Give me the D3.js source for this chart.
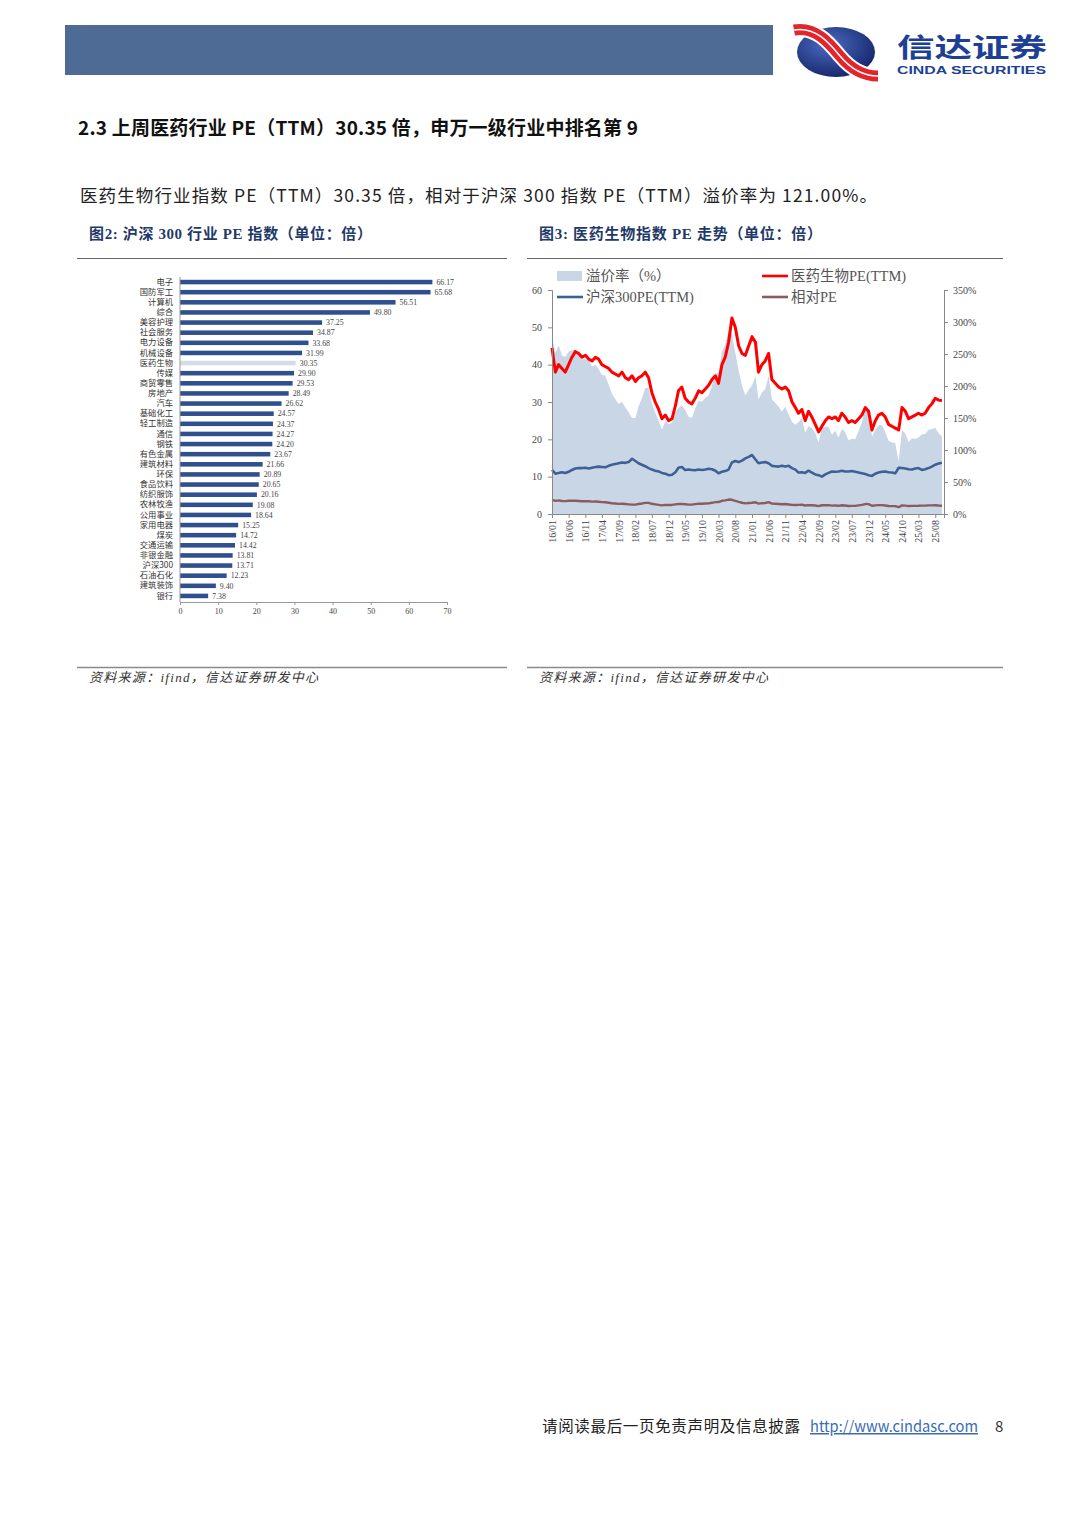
<!DOCTYPE html>
<html>
<head>
<meta charset="utf-8">
<script src="https://cdn.jsdelivr.net/npm/d3@7"></script>
<style>
  body { margin: 0; background: #fff; }
  svg { display: block; }
</style>
</head>
<body>
<script>
// ---- data: fig 2, SW level-1 industry PE (TTM)
var categories = ["电子","国防军工","计算机","综合","美容护理","社会服务","电力设备","机械设备","医药生物","传媒",
                  "商贸零售","房地产","汽车","基础化工","轻工制造","通信","钢铁","有色金属","建筑材料","环保",
                  "食品饮料","纺织服饰","农林牧渔","公用事业","家用电器","煤炭","交通运输","非银金融","沪深300","石油石化",
                  "建筑装饰","银行"];
var peValues   = [66.17,65.68,56.51,49.80,37.25,34.87,33.68,31.99,30.35,29.90,
                  29.53,28.49,26.62,24.57,24.37,24.27,24.20,23.67,21.66,20.89,
                  20.65,20.16,19.08,18.64,15.25,14.72,14.42,13.81,13.71,12.23,
                  9.40,7.38];
var highlightCat = "医药生物";
var barTicks = [0,10,20,30,40,50,60,70];

// ---- data: fig 3, monthly from 2016/01 to 2025/10
var seriesStart = new Date(2016, 0, 1);
var medPE = [
  44.5,38,40,39,38,40,42,43.5,43,42,42.5,41.5,          // 2016
  41,42,41.5,40,39.5,39,38,37.5,37,38,36.5,36,          // 2017
  37,35.5,36.5,37,38,36.5,32.5,30,28,25.5,26.5,25,      // 2018
  25.5,29,33,34,31,30,29.5,31,33,32.5,33.5,34.5,        // 2019
  36,37,35,40,42,46,52.5,50,45,43,42.5,45,              // 2020
  47.5,46,38,40,41,43,36,35,34,33.5,34,33,              // 2021
  30,28.5,27,28,25,27.5,26,24,22,23.5,25,26,            // 2022
  25.5,26,25,27,26,24.5,25,24.5,25.5,26.5,28.5,27.5,    // 2023
  22.5,25,26.5,27,26,24,23.5,23,22.5,28.5,27.5,25.5,    // 2024
  26,26.5,27,26.5,27,28.5,29.5,31,30.5,30.35            // 2025
];
var hs300PE = [
  11.8,10.8,11,11.2,11,11.3,11.8,12.2,12.3,12.3,12.4,12.2,
  12.4,12.6,12.7,12.6,12.5,12.9,13.2,13.4,13.6,13.8,13.7,13.9,
  14.8,14.2,13.6,13.2,12.8,12.3,11.9,11.6,11.4,11.0,10.8,10.4,
  10.5,11.2,12.4,12.6,11.8,11.9,11.8,11.7,11.9,11.8,11.9,12.1,
  12.0,11.6,10.9,11.3,11.5,11.9,13.8,14.2,13.9,14.3,14.9,15.3,
  15.8,14.6,13.6,13.8,13.9,13.6,12.9,12.8,12.7,12.9,12.7,12.9,
  12.3,11.9,11.1,11.2,11.0,11.6,11.1,10.6,10.4,10.0,10.6,11.0,
  11.4,11.3,11.4,11.6,11.4,11.4,11.5,11.3,11.1,10.9,10.7,10.4,
  10.2,10.8,11.1,11.3,11.4,11.2,11.1,10.9,12.4,12.3,12.2,12.0,
  11.9,12.2,12.3,11.8,12.0,12.3,12.7,13.2,13.5,13.71
];
var leftTicks  = [0,10,20,30,40,50,60];
var rightTicks = [0,50,100,150,200,250,300,350];
var xTickStep  = 5; // months between date labels

var CJK   = "'Noto Sans CJK SC', sans-serif";
var SERIF = "'Liberation Serif', 'Noto Sans CJK SC', serif";

var svg = d3.select("body").append("svg")
    .attr("width", 1080)
    .attr("height", 1527);

// ---------- page header
svg.append("rect")
    .attr("x", 65).attr("y", 25).attr("width", 708).attr("height", 50)
    .attr("fill", "#4d6b95");

var defs = svg.append("defs");
var grad = defs.append("radialGradient").attr("id", "logoGrad")
    .attr("cx", "40%").attr("cy", "35%").attr("r", "70%");
grad.append("stop").attr("offset", "0%").attr("stop-color", "#4a6cc0");
grad.append("stop").attr("offset", "100%").attr("stop-color", "#15246a");

svg.append("ellipse")
    .attr("cx", 836).attr("cy", 52).attr("rx", 39).attr("ry", 25)
    .attr("fill", "url(#logoGrad)");

// red double swoosh across the emblem
var swoosh = "M794,30 C816,26 830,44 840,56 S862,76 878,76";
svg.append("path").attr("d", swoosh)
    .attr("fill", "none").attr("stroke", "#fff").attr("stroke-width", 15);
svg.append("path").attr("d", swoosh)
    .attr("fill", "none").attr("stroke", "#e3242b").attr("stroke-width", 11);
svg.append("path").attr("d", swoosh)
    .attr("fill", "none").attr("stroke", "#fff").attr("stroke-width", 1.6);

svg.append("text")
    .attr("x", 897).attr("y", 57)
    .attr("textLength", 150).attr("lengthAdjust", "spacingAndGlyphs")
    .style("font-family", CJK).style("font-weight", "bold").style("font-size", "26px")
    .attr("fill", "#1d3f94")
    .text("信达证券");
svg.append("text")
    .attr("x", 897).attr("y", 74)
    .attr("textLength", 149).attr("lengthAdjust", "spacingAndGlyphs")
    .style("font-family", "'Liberation Sans', Arial, sans-serif").style("font-weight", "bold").style("font-size", "11px")
    .attr("fill", "#1d3f94")
    .text("CINDA SECURITIES");

// ---------- headings
svg.append("text")
    .attr("x", 78).attr("y", 135)
    .attr("textLength", 560).attr("lengthAdjust", "spacing")
    .style("font-family", CJK).style("font-weight", "bold").style("font-size", "19px")
    .attr("fill", "#111")
    .text("2.3 上周医药行业 PE（TTM）30.35 倍，申万一级行业中排名第 9");

svg.append("text")
    .attr("x", 80).attr("y", 202)
    .attr("textLength", 797).attr("lengthAdjust", "spacing")
    .style("font-family", CJK).style("font-size", "17.5px")
    .attr("fill", "#222")
    .text("医药生物行业指数 PE（TTM）30.35 倍，相对于沪深 300 指数 PE（TTM）溢价率为 121.00%。");

function figTitle(x, label){
  svg.append("text")
      .attr("x", x).attr("y", 239)
      .attr("textLength", 283).attr("lengthAdjust", "spacing")
      .style("font-family", SERIF).style("font-weight", "bold").style("font-size", "15px")
      .attr("fill", "#1f3a68")
      .text(label);
}
figTitle(89, "图2: 沪深 300 行业 PE 指数（单位：倍）");
figTitle(539, "图3: 医药生物指数 PE 走势（单位：倍）");

[[77, 507], [527, 1003]].forEach(function(r){
  svg.append("line").attr("x1", r[0]).attr("x2", r[1]).attr("y1", 258.5).attr("y2", 258.5)
      .attr("stroke", "#666").attr("stroke-width", 1);
  svg.append("line").attr("x1", r[0]).attr("x2", r[1]).attr("y1", 667.5).attr("y2", 667.5)
      .attr("stroke", "#8a8a8a").attr("stroke-width", 1.6);
  svg.append("text")
      .attr("x", r[0] + 12).attr("y", 682)
      .attr("textLength", 229).attr("lengthAdjust", "spacing")
      .style("font-family", SERIF).style("font-style", "italic").style("font-size", "13px")
      .attr("fill", "#333")
      .text("资料来源：ifind，信达证券研发中心");
});

// ---------- fig 2: horizontal bars
var xBar = d3.scaleLinear().domain([0, 70]).range([180, 447]);
var yBar = d3.scaleBand().domain(categories).range([277, 601])
    .paddingInner(0.55).paddingOuter(0.275);

var barG = svg.append("g");
barG.selectAll("rect.bar")
    .data(categories).enter()
    .append("rect")
    .attr("class", "bar")
    .attr("x", xBar(0))
    .attr("y", function(d){ return yBar(d); })
    .attr("width", function(d, i){ return xBar(peValues[i]) - xBar(0); })
    .attr("height", yBar.bandwidth())
    .attr("fill", function(d){ return d == highlightCat ? "#d3dde9" : "#2f4f8e"; });

barG.selectAll("text.val")
    .data(categories).enter()
    .append("text")
    .attr("class", "val")
    .attr("x", function(d, i){ return xBar(peValues[i]) + 4; })
    .attr("y", function(d){ return yBar(d) + yBar.bandwidth() / 2; })
    .attr("dy", "0.35em")
    .style("font-family", SERIF).style("font-size", "7.8px")
    .attr("fill", "#444")
    .text(function(d, i){ return peValues[i].toFixed(2); });

var yBarAxis = svg.append("g")
    .attr("transform", "translate(" + xBar(0) + ",0)")
    .call(d3.axisLeft(yBar).tickSize(0).tickPadding(7));
yBarAxis.select(".domain").attr("stroke", "#999").attr("d", "M0,277V602");
yBarAxis.selectAll("text").style("font-family", CJK).style("font-size", "8.3px").attr("fill", "#333");

var xBarAxis = svg.append("g")
    .attr("transform", "translate(0,602)")
    .call(d3.axisBottom(xBar).tickValues(barTicks).tickSize(3).tickPadding(3));
xBarAxis.select(".domain").attr("stroke", "#999");
xBarAxis.selectAll("line").attr("stroke", "#999");
xBarAxis.selectAll("text").style("font-family", SERIF).style("font-size", "8px").attr("fill", "#444");

// ---------- fig 3: PE trend
var dates = medPE.map(function(d, i){ return d3.timeMonth.offset(seriesStart, i); });
var rows = dates.map(function(d, i){
  return {
    date: d,
    med: medPE[i],
    hs: hs300PE[i],
    premium: (medPE[i] / hs300PE[i] - 1) * 100,
    rel: medPE[i] / hs300PE[i]
  };
});

var xTime  = d3.scaleTime().domain([seriesStart, new Date(2025, 9, 20)]).range([552, 944]);
var yLeft  = d3.scaleLinear().domain([0, 60]).range([514, 290]);
var yRight = d3.scaleLinear().domain([0, 350]).range([514, 290]);

var area = d3.area()
    .x(function(d){ return xTime(d.date); })
    .y0(yRight(0))
    .y1(function(d){ return yRight(d.premium); });

svg.append("path").datum(rows)
    .attr("d", area)
    .attr("fill", "#c9d6e6");

function drawLine(key, color, width){
  svg.append("path").datum(rows)
      .attr("fill", "none")
      .attr("stroke", color)
      .attr("stroke-width", width)
      .attr("stroke-linejoin", "round")
      .attr("d", d3.line()
          .x(function(d){ return xTime(d.date); })
          .y(function(d){ return yLeft(d[key]); }));
}
drawLine("rel", "#8b5b5e", 2.4);
drawLine("hs", "#3d6195", 2.6);
drawLine("med", "#ff0000", 3);

var leftAxis = svg.append("g")
    .attr("transform", "translate(552,0)")
    .call(d3.axisLeft(yLeft).tickValues(leftTicks).tickSize(4).tickPadding(6));
var rightAxis = svg.append("g")
    .attr("transform", "translate(944,0)")
    .call(d3.axisRight(yRight).tickValues(rightTicks).tickSize(4).tickPadding(5)
        .tickFormat(function(d){ return d + "%"; }));

var tickDates = d3.range(0, medPE.length, xTickStep).map(function(i){ return dates[i]; });
var bottomAxis = svg.append("g")
    .attr("transform", "translate(0,514)")
    .call(d3.axisBottom(xTime).tickValues(tickDates).tickSize(4)
        .tickFormat(d3.timeFormat("%y/%m")));
bottomAxis.selectAll("text")
    .attr("transform", "rotate(-90)")
    .attr("x", -6).attr("y", 0).attr("dy", "0.35em")
    .style("text-anchor", "end");

[leftAxis, rightAxis, bottomAxis].forEach(function(g){
  g.select(".domain").attr("stroke", "#888");
  g.selectAll("line").attr("stroke", "#888");
  g.selectAll("text").style("font-family", SERIF).style("font-size", "10px").attr("fill", "#444");
});

// legend
var legend = [
  {label: "溢价率（%）",       type: "area", color: "#c9d6e6", x: 557, y: 276},
  {label: "沪深300PE(TTM)",  type: "line", color: "#3d6195", x: 557, y: 297},
  {label: "医药生物PE(TTM)", type: "line", color: "#ff0000", x: 762, y: 276},
  {label: "相对PE",           type: "line", color: "#8b5b5e", x: 762, y: 297}
];
var lg = svg.selectAll("g.legend").data(legend).enter()
    .append("g").attr("class", "legend")
    .attr("transform", function(d){ return "translate(" + d.x + "," + d.y + ")"; });
lg.each(function(d){
  var g = d3.select(this);
  if (d.type == "area") {
    g.append("rect").attr("x", 0).attr("y", -5).attr("width", 25).attr("height", 10).attr("fill", d.color);
  } else {
    g.append("line").attr("x1", 0).attr("x2", 26).attr("y1", 0).attr("y2", 0)
        .attr("stroke", d.color).attr("stroke-width", 2.6);
  }
});
lg.append("text")
    .attr("x", 29).attr("y", 0).attr("dy", "0.36em")
    .style("font-family", SERIF).style("font-size", "14.5px")
    .attr("fill", "#555")
    .text(function(d){ return d.label; });

// ---------- footer
svg.append("text")
    .attr("x", 542).attr("y", 1432)
    .attr("textLength", 258).attr("lengthAdjust", "spacing")
    .style("font-family", CJK).style("font-size", "15.5px")
    .attr("fill", "#222")
    .text("请阅读最后一页免责声明及信息披露");
svg.append("text")
    .attr("x", 810).attr("y", 1432)
    .attr("textLength", 168).attr("lengthAdjust", "spacingAndGlyphs")
    .style("font-family", CJK).style("font-size", "15px")
    .style("text-decoration", "underline")
    .attr("fill", "#3a6bb5")
    .text("http://www.cindasc.com");
svg.append("text")
    .attr("x", 995).attr("y", 1432)
    .style("font-family", CJK).style("font-size", "15px")
    .attr("fill", "#333")
    .text("8");
</script>
</body>
</html>
